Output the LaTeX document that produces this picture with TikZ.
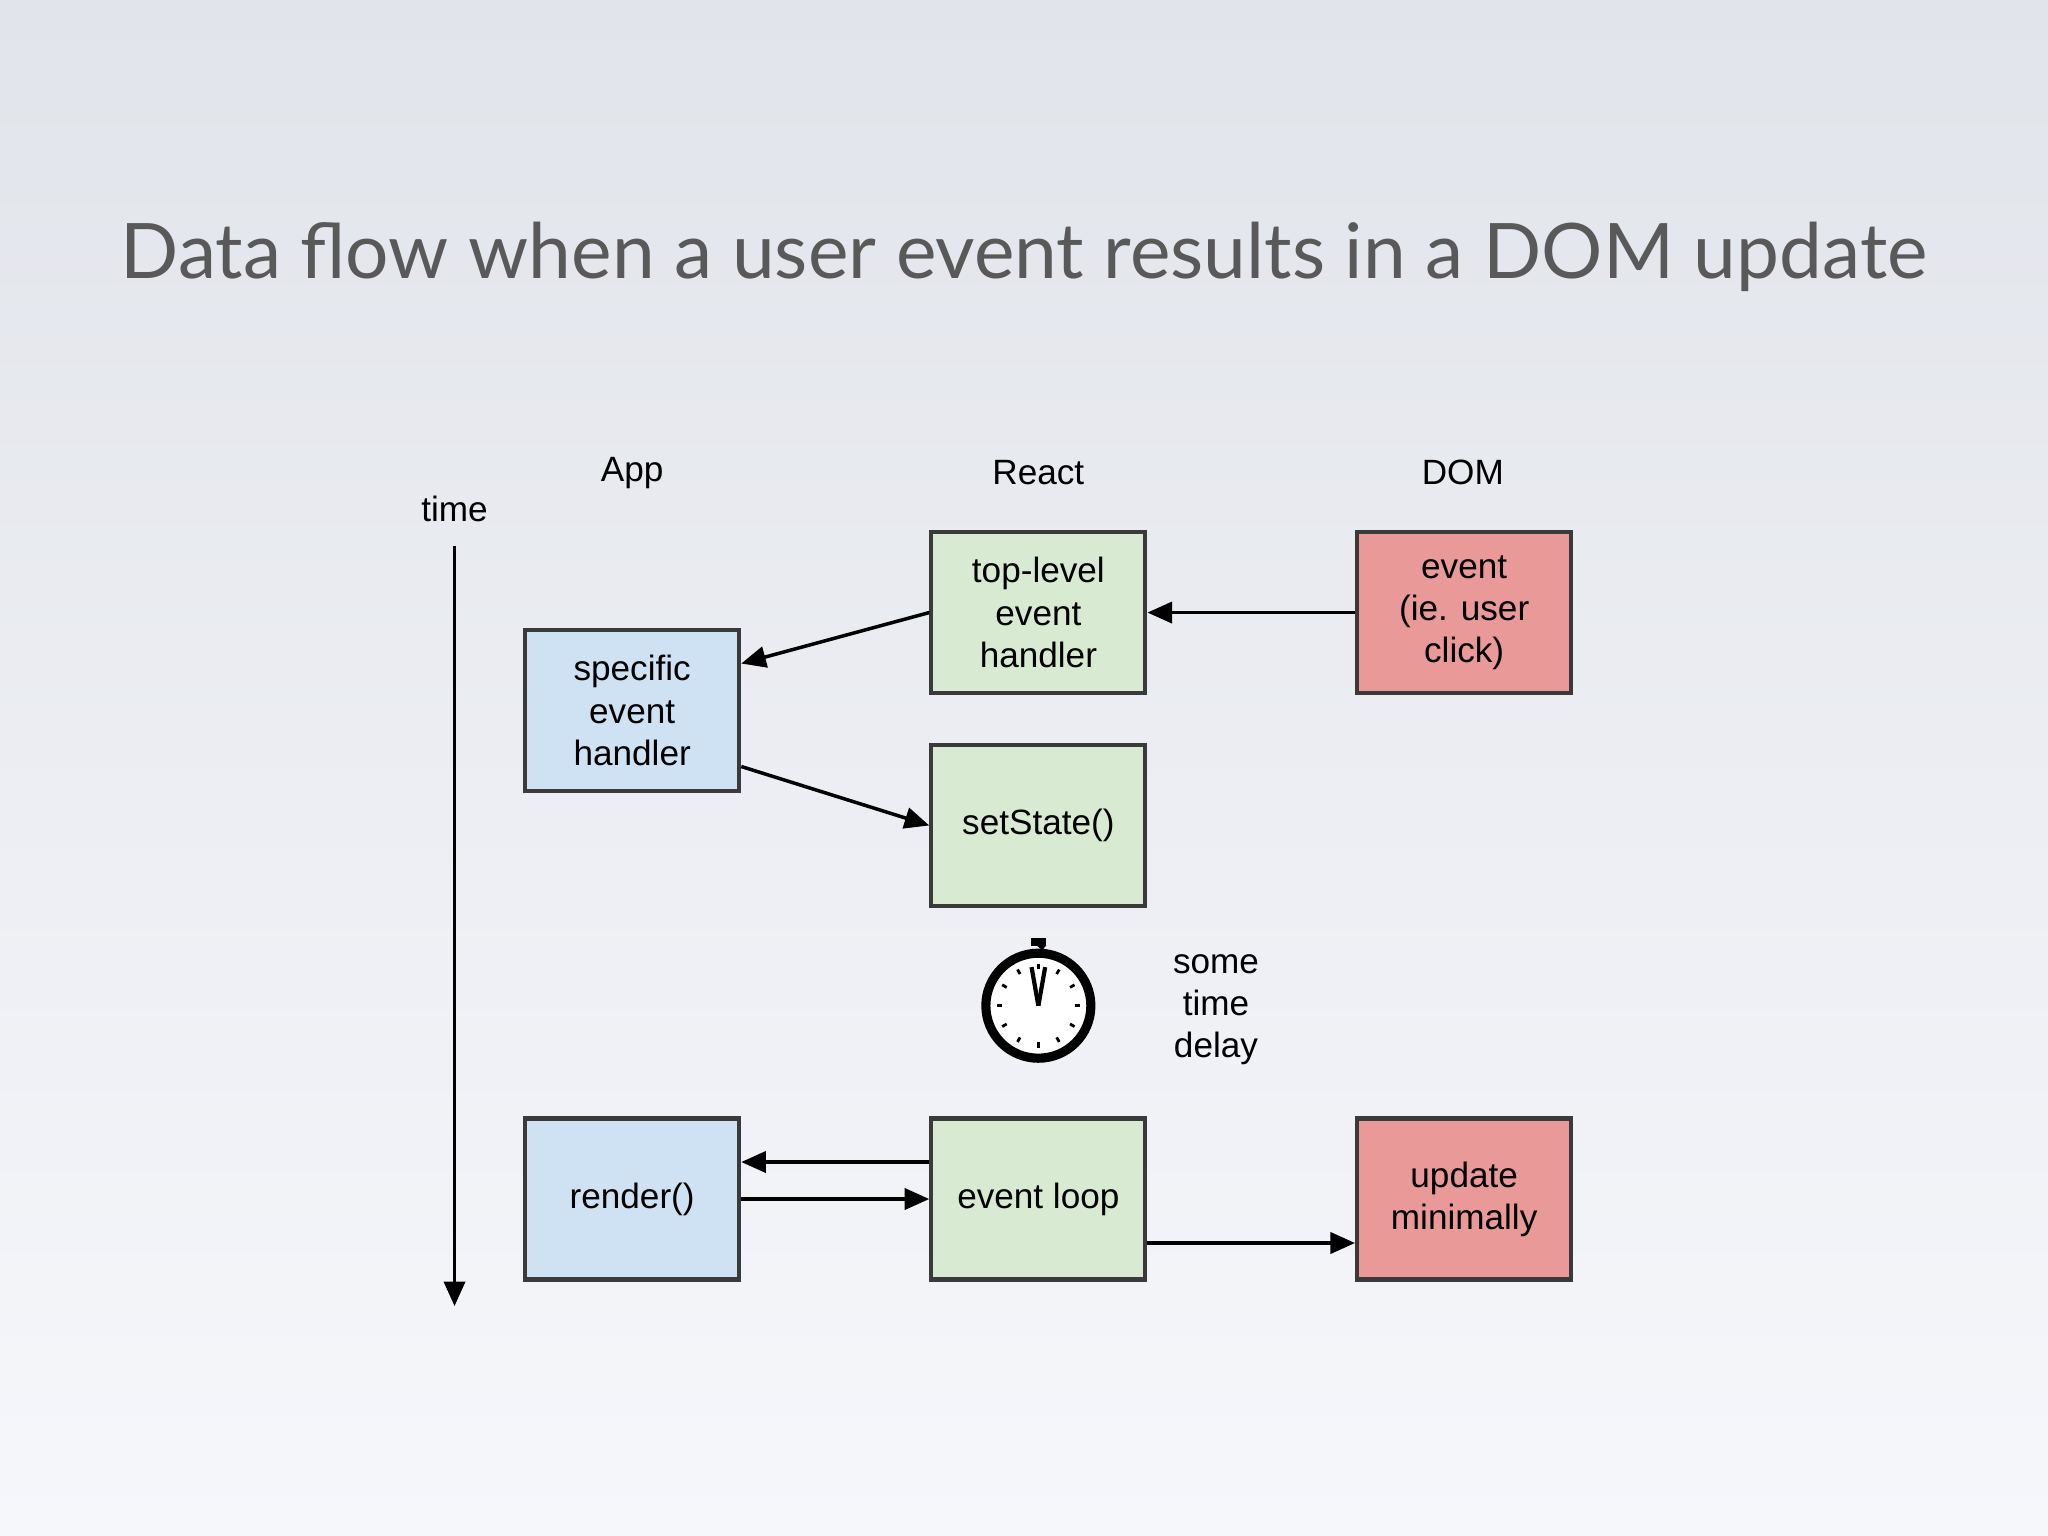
\documentclass[tikz,border=0pt]{standalone}
\usepackage{fontspec}
\setmainfont{Liberation Sans}
\newfontfamily\titlefont{Lato}
\usetikzlibrary{arrows.meta}
\definecolor{appblue}{HTML}{CFE2F3}
\definecolor{reactgreen}{HTML}{D9EAD3}
\definecolor{domred}{HTML}{EA9999}
\definecolor{boxline}{HTML}{3A3A3A}
\tikzset{
  box/.style={draw=boxline, line width=1.2pt, minimum width=2.14cm, minimum height=1.61cm,
    align=center, font=\fontsize{10}{12}\selectfont, inner sep=2pt},
  head/.style={font=\fontsize{10}{12}\selectfont},
  flow/.style={-{Triangle[length=7pt,width=6pt]}, line width=1pt, black}
}
\begin{document}
\begin{tikzpicture}[x=0.013061cm, y=-0.013061cm]
    % Background
    \shade[top color={rgb,255:red,225;green,228;blue,234}, bottom color={rgb,255:red,246;green,247;blue,251}]
      (0,0) rectangle (1568,1176);
    \useasboundingbox (0,0) rectangle (1568,1176);

    % Title
    \node[text=black!65, font=\titlefont\fontsize{21.8}{26}\selectfont] (title) at (784,197)
      {Data flow when a user event results in a DOM update};

    % Column labels
    \node[head] (app) at (484,362) {App};
    \node[head] (react) at (795,362) {React};
    \node[head] (dom) at (1120,362) {DOM};
    \node[head] (time) at (348,390) {time};

    % Time axis
    \coordinate (tstart) at (348,418);
    \coordinate (tend) at (348,1000);
    \draw[flow] (tstart) -- (tend);

    % Boxes
    \node[box, fill=reactgreen] (toplevel) at (795,469) {top-level\\event\\handler};
    \node[box, fill=domred] (event) at (1121,469) {event\\(ie. user\\click)};
    \node[box, fill=appblue] (specific) at (484,544) {specific\\event\\handler};
    \node[box, fill=reactgreen] (setstate) at (795,632) {setState()};
    \node[box, fill=appblue] (render) at (484,918) {render()};
    \node[box, fill=reactgreen] (loop) at (795,918) {event loop};
    \node[box, fill=domred] (update) at (1121,918) {update\\minimally};

    % Connectors
    \draw[flow] (event.west) -- (toplevel.east);
    \draw[flow] (toplevel.west) -- ([yshift=0.47cm]specific.east);
    \draw[flow] ([yshift=-0.56cm]specific.east) -- (setstate.west);
    \draw[flow] ([yshift=0.37cm]loop.west) -- ([yshift=0.37cm]render.east);
    \draw[flow] (render.east) -- (loop.west);
    \draw[flow] ([yshift=-0.44cm]loop.east) -- ([yshift=-0.44cm]update.west);

    % Stopwatch
    \node[circle, draw, line width=2.6pt, minimum size=1.05cm, fill=white] (watch) at (795,770) {};
    \fill (watch.north) ++(-6,-2) rectangle ++(12,-6);
    \fill[rotate around={-40:(watch.center)}] (watch.north) ++(-3,-1) rectangle ++(6,-5);
    \foreach \a in {0,30,...,330}
      \draw[line width=0.8pt] (watch.center) ++(\a:28) -- ++(\a:4);
    \draw[line width=1.2pt] (watch.center) -- ++(260:30);
    \draw[line width=1.2pt] (watch.center) -- ++(280:30);

    % Delay label
    \node[head, align=center] (delay) at (931,773) {some\\time\\delay};
\end{tikzpicture}
\end{document}
